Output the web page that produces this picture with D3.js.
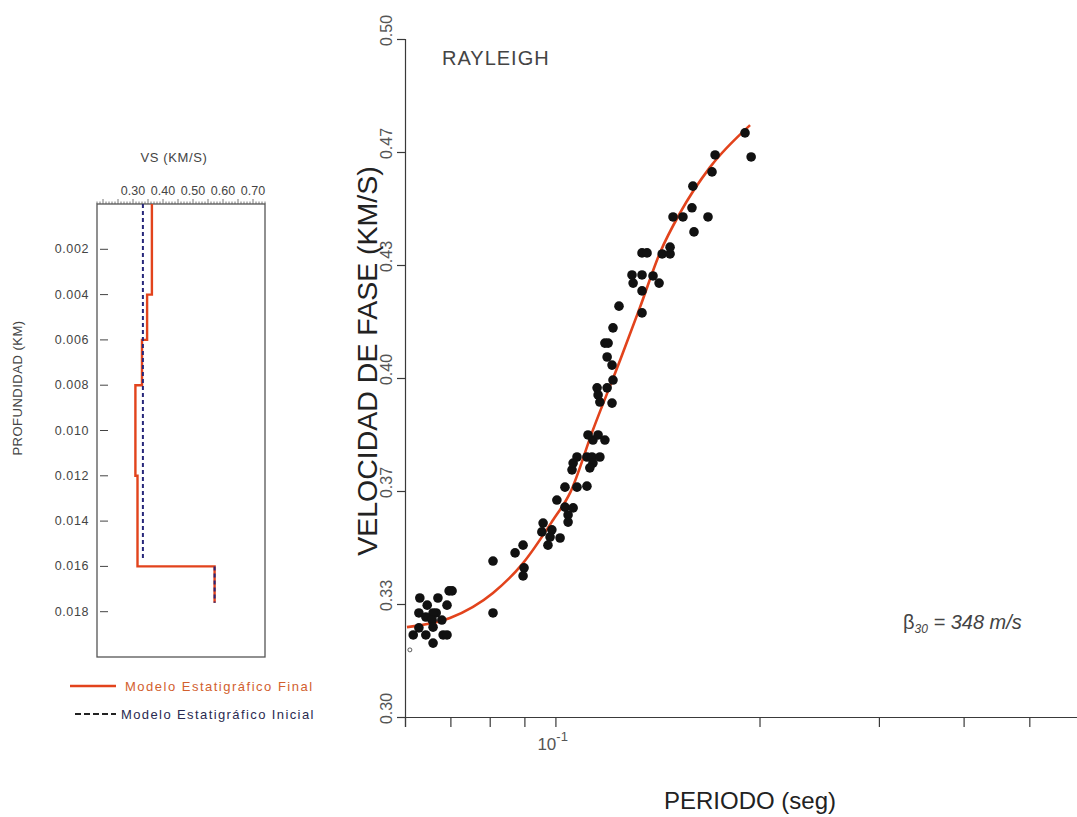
<!DOCTYPE html>
<html><head><meta charset="utf-8">
<script src="https://cdn.jsdelivr.net/npm/d3@7"></script>
<style>
body{margin:0;background:#fff;}
svg{display:block;font-family:"Liberation Sans",Arial,Helvetica,sans-serif;}
</style></head><body>
<svg id="chart" width="1077" height="817"></svg>
<script>
// ---- Observed Rayleigh-wave dispersion (period in s, phase velocity in km/s)
const obsPeriod = [
  0.0631,0.0671,0.0697,0.0704,0.0647,0.0692,0.0629,0.0667,0.0660,0.0644,
  0.0658,0.0680,0.0629,0.0660,0.0617,0.0644,0.0683,0.0692,0.0660,0.0809,
  0.0809,0.0872,0.0896,0.0899,0.0896,0.0959,0.0955,0.0988,0.0982,0.1016,
  0.0975,0.1005,0.1033,0.1044,0.1062,0.1044,0.1033,0.1076,0.1113,0.1058,
  0.1062,0.1076,0.1113,0.1132,0.1136,0.1163,0.1124,0.1136,0.1117,0.1156,
  0.1183,0.1152,0.1156,0.1163,0.1192,0.1212,0.1216,0.1212,0.1192,0.1183,
  0.1196,0.1216,0.1241,0.1342,0.1342,0.1302,0.1422,0.1297,0.1342,0.1393,
  0.1342,0.1365,0.1437,0.1476,0.1476,0.1601,0.1491,0.1542,0.1679,0.1590,
  0.1595,0.1702,0.1720,0.1904,0.1944
];
const obsVelocity = [
  0.3351,0.3351,0.3372,0.3372,0.3330,0.3330,0.3307,0.3307,0.3307,0.3295,
  0.3286,0.3286,0.3263,0.3265,0.3242,0.3242,0.3242,0.3242,0.3218,0.3460,
  0.3307,0.3484,0.3507,0.3440,0.3416,0.3572,0.3546,0.3552,0.3531,0.3528,
  0.3507,0.3640,0.3619,0.3596,0.3617,0.3575,0.3678,0.3678,0.3681,0.3729,
  0.3749,0.3767,0.3767,0.3767,0.3749,0.3767,0.3735,0.3817,0.3832,0.3832,
  0.3817,0.3971,0.3950,0.3929,0.3971,0.3926,0.3994,0.4038,0.4062,0.4103,
  0.4103,0.4148,0.4212,0.4192,0.4257,0.4280,0.4280,0.4304,0.4304,0.4301,
  0.4369,0.4369,0.4366,0.4366,0.4386,0.4431,0.4475,0.4475,0.4475,0.4502,
  0.4566,0.4608,0.4658,0.4723,0.4652
];
// Single open-circle sample at the short-period end
const extraPeriod = [0.0610];
const extraVelocity = [0.3198];

// ---- Theoretical dispersion curve of the final model
const fitPeriod   = [0.0604,0.0699,0.0809,0.0896,0.0992,0.1051,0.1136,0.1246,0.1333,0.1426,0.1527,0.1691,0.1937];
const fitVelocity = [0.3265,0.3292,0.3366,0.3454,0.3581,0.3661,0.3847,0.4053,0.4209,0.4369,0.4487,0.4622,0.4746];

// ---- Axis ticks of the dispersion plot
const velTickValues = [0.30, 0.30 + 1/30, 0.30 + 2/30, 0.40, 0.40 + 1/30, 0.40 + 2/30, 0.50];
const velTickLabels = ["0.30","0.33","0.37","0.40","0.43","0.47","0.50"];
const periodTickValues = [0.06,0.07,0.08,0.09,0.1,0.2,0.3,0.4,0.5,0.6];

// ---- Shear-wave velocity profiles (layer tops in km, Vs in km/s)
const layerDepth   = [0, 0.004, 0.006, 0.008, 0.012, 0.016, 0.0176];
const vsFinal      = [0.363, 0.347, 0.330, 0.308, 0.315, 0.572];
const initialDepth = [0, 0.0157, 0.016, 0.0176];
const vsInitial    = [0.333, null, 0.572];
const depthTicks   = [0.002,0.004,0.006,0.008,0.010,0.012,0.014,0.016,0.018];
const vsTickValues = [0.30,0.40,0.50,0.60,0.70];

const svg = d3.select("#chart");
const RED = "#e2431c";
const NAVY = "#26267a";
const AXIS = "#3a3a3a";

// =================== Dispersion plot ===================
const x = d3.scaleLog().domain([0.06, 0.6]).range([405, 1083]);
const y = d3.scaleLinear().domain([0.30, 0.50]).range([717, 39]);

const gR = svg.append("g");

// y axis
const yAxis = d3.axisLeft(y).tickValues(velTickValues).tickSize(8)
  .tickFormat((d,i) => velTickLabels[i]);
const gy = gR.append("g").attr("transform","translate(405,0)").call(yAxis);
gy.select(".domain").attr("stroke",AXIS).attr("stroke-width",1.2);
gy.selectAll(".tick line").attr("stroke",AXIS).attr("stroke-width",1.2);
gy.selectAll(".tick text")
  .attr("font-size",16).attr("fill","#555")
  .attr("text-anchor","middle")
  .attr("transform","rotate(-90)")
  .attr("x",9).attr("y",-13).attr("dy","0");

// x axis
const xAxis = d3.axisBottom(x).tickValues(periodTickValues).tickSize(10).tickFormat("");
const gx = gR.append("g").attr("transform","translate(0,717)").call(xAxis);
gx.select(".domain").attr("stroke",AXIS).attr("stroke-width",1.2);
gx.selectAll(".tick line").attr("stroke",AXIS).attr("stroke-width",1.2);

// 10^-1 label
const dec = gR.append("text").attr("x", x(0.1) - 18).attr("y", 750)
  .attr("font-size",17).attr("fill","#555");
dec.append("tspan").text("10");
dec.append("tspan").attr("dy",-9).attr("font-size",13).text("-1");

// fitted curve
const fitLine = d3.line().x(d => x(d[0])).y(d => y(d[1])).curve(d3.curveMonotoneX);
gR.append("path")
  .datum(fitPeriod.map((p,i) => [p, fitVelocity[i]]))
  .attr("d", fitLine).attr("fill","none").attr("stroke",RED).attr("stroke-width",2.6);

// observed points
gR.append("g").selectAll("circle")
  .data(obsPeriod.map((p,i) => [p, obsVelocity[i]]))
  .join("circle")
  .attr("cx", d => x(d[0])).attr("cy", d => y(d[1])).attr("r", 4.8)
  .attr("fill","#111");
gR.append("g").selectAll("circle")
  .data(extraPeriod.map((p,i) => [p, extraVelocity[i]]))
  .join("circle")
  .attr("cx", d => x(d[0])).attr("cy", d => y(d[1])).attr("r", 2)
  .attr("fill","none").attr("stroke","#333").attr("stroke-width",0.8);

// titles and annotations
gR.append("text").attr("transform","translate(377,361) rotate(-90)")
  .attr("text-anchor","middle").attr("font-size",28.5).attr("fill","#222")
  .text("VELOCIDAD DE FASE (KM/S)");
gR.append("text").attr("x",750).attr("y",809).attr("text-anchor","middle")
  .attr("font-size",24).attr("fill","#222").text("PERIODO (seg)");
gR.append("text").attr("x",442).attr("y",65).attr("font-size",20)
  .attr("letter-spacing",1).attr("fill","#444").text("RAYLEIGH");
const beta = gR.append("text").attr("x",903).attr("y",629)
  .attr("font-size",20).attr("font-style","italic").attr("fill","#444");
beta.append("tspan").attr("font-style","normal").text("β");
beta.append("tspan").attr("dy",4).attr("font-size",12).text("30");
beta.append("tspan").attr("dy",-4).text(" = 348 m/s");

// =================== Velocity profile ===================
const vs = d3.scaleLinear().domain([0.18, 0.74]).range([97, 265]);
const dz = d3.scaleLinear().domain([0, 0.02]).range([204, 657]);
const gL = svg.append("g");

// frame
gL.append("rect").attr("x",97).attr("y",204).attr("width",168).attr("height",453)
  .attr("fill","none").attr("stroke","#555").attr("stroke-width",1.3);

// top Vs axis with minor ticks
const minor = d3.range(0.18, 0.7401, 0.01);
gL.append("g").selectAll("line").data(minor).join("line")
  .attr("x1", d => vs(d)).attr("x2", d => vs(d))
  .attr("y1", 204).attr("y2", d => (Math.round(d*100) % 5 === 0) ? 199 : 201.5)
  .attr("stroke","#555").attr("stroke-width",0.8);
gL.append("g").selectAll("text").data(vsTickValues).join("text")
  .attr("x", d => vs(d)).attr("y",195).attr("text-anchor","middle")
  .attr("font-size",12.5).attr("fill","#444").text(d => d.toFixed(2));
gL.append("text").attr("x",174).attr("y",162).attr("text-anchor","middle")
  .attr("font-size",13).attr("letter-spacing",0.6).attr("fill","#444").text("VS (KM/S)");

// depth axis
gL.append("g").selectAll("line").data(depthTicks).join("line")
  .attr("x1",100).attr("x2",108).attr("y1", d => dz(d)).attr("y2", d => dz(d))
  .attr("stroke","#444").attr("stroke-width",1);
gL.append("g").selectAll("text").data(depthTicks).join("text")
  .attr("x",89).attr("y", d => dz(d) + 4).attr("text-anchor","end")
  .attr("font-size",12.5).attr("letter-spacing",0.6).attr("fill","#444").text(d => d.toFixed(3));
gL.append("text").attr("transform","translate(22,388) rotate(-90)")
  .attr("text-anchor","middle").attr("font-size",13).attr("letter-spacing",0.5).attr("fill","#444")
  .text("PROFUNDIDAD (KM)");

// final model: stair-step profile
const finalPts = [];
vsFinal.forEach((v,i) => { finalPts.push([v, layerDepth[i]]); finalPts.push([v, layerDepth[i+1]]); });
const profLine = d3.line().x(d => vs(d[0])).y(d => dz(d[1]));
gL.append("path").datum(finalPts).attr("d", profLine)
  .attr("fill","none").attr("stroke",RED).attr("stroke-width",2.4);

// initial model: dashed vertical segments
vsInitial.forEach((v,i) => {
  if (v === null) return;
  gL.append("path").datum([[v, initialDepth[i]], [v, initialDepth[i+1]]])
    .attr("d", profLine).attr("fill","none").attr("stroke",NAVY)
    .attr("stroke-width",2).attr("stroke-dasharray","4,3");
});

// legend
gL.append("line").attr("x1",70).attr("x2",116).attr("y1",686).attr("y2",686)
  .attr("stroke",RED).attr("stroke-width",2.4);
gL.append("text").attr("x",125).attr("y",691).attr("font-size",13)
  .attr("letter-spacing",1.5).attr("fill","#d2602e").text("Modelo Estatigráfico Final");
gL.append("line").attr("x1",75).attr("x2",116).attr("y1",714).attr("y2",714)
  .attr("stroke","#222").attr("stroke-width",2).attr("stroke-dasharray","6,3");
gL.append("text").attr("x",121).attr("y",719).attr("font-size",13)
  .attr("letter-spacing",1.4).attr("fill","#2a2a50").text("Modelo Estatigráfico Inicial");
</script>
</body></html>
